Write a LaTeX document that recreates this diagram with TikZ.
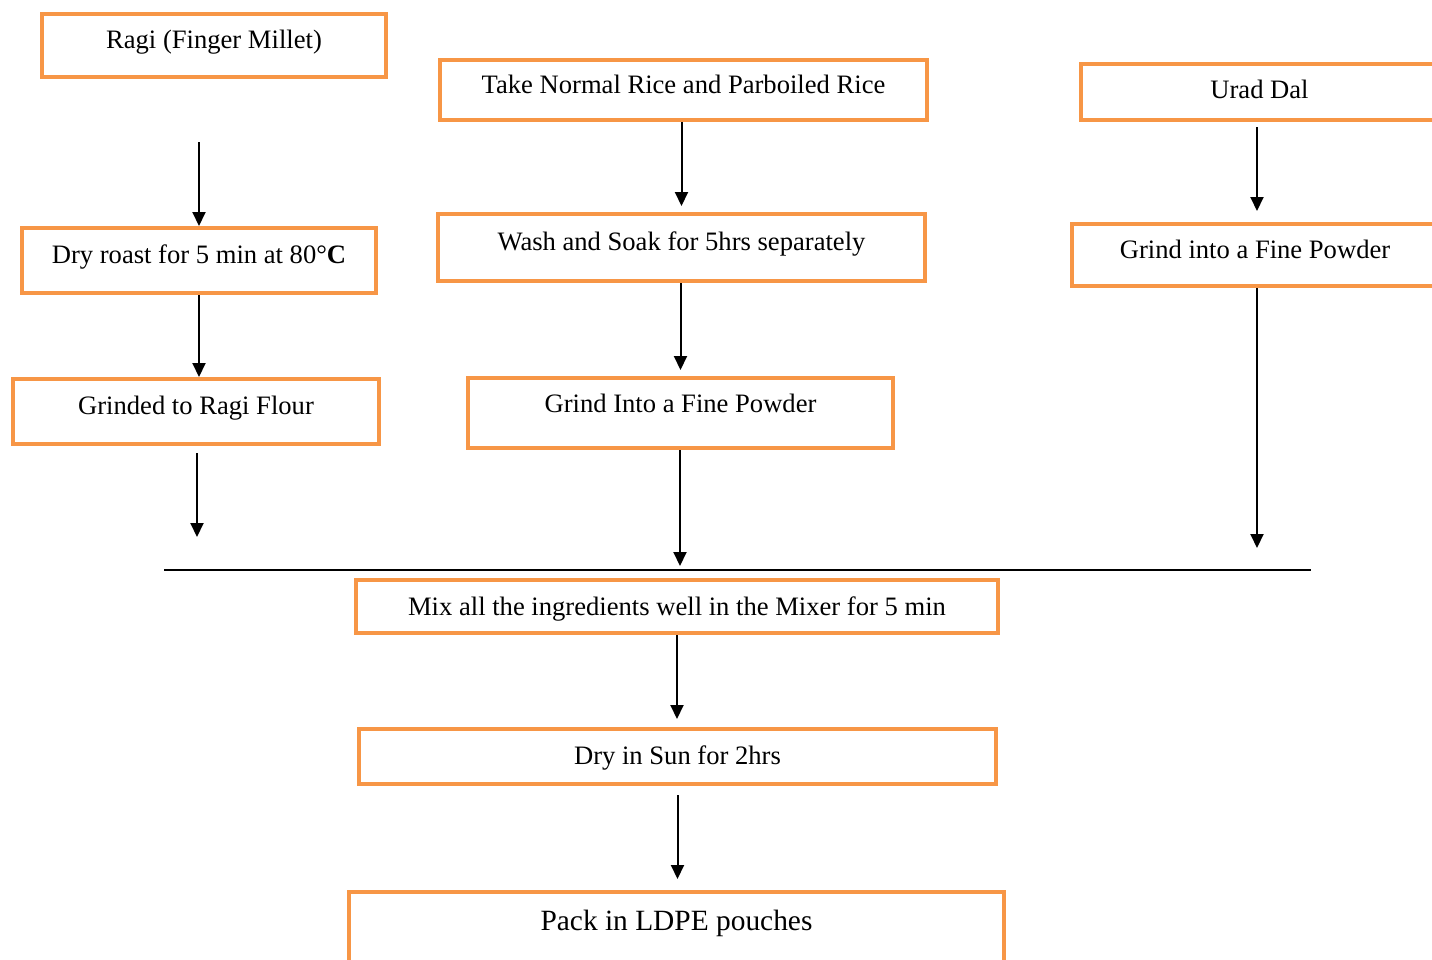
\documentclass[tikz,border=0pt]{standalone}
\usepackage{fontspec}
\setmainfont{Liberation Serif}
\usetikzlibrary{arrows.meta}
\definecolor{boxorange}{HTML}{F79646}

\tikzstyle{block} = [rectangle, draw=boxorange, line width=2pt, text centered, font=\fontsize{13.3}{16}\selectfont, text height=9pt, text depth=6pt, inner sep=0pt]

\begin{document}
\begin{tikzpicture}[x=0.5pt, y=-0.5pt, >={Triangle[length=7pt,width=6.5pt]}]
	\tikzstyle{flat}=[text depth=3pt]
	\tikzstyle{flow}=[->, line width=1pt]
\useasboundingbox (0,0) rectangle (1432,960);
% left column: ragi
  \node [block, minimum width=172pt, minimum height=31.5pt] (ragi) at (214,45.5) {Ragi (Finger Millet)};
  \node [block, minimum width=177pt, minimum height=32.5pt] (roast) at (199,260.5) {Dry roast for 5 min at 80°\textbf{C}};
  \node [block, minimum width=183pt, minimum height=32.5pt] (flour) at (196,411.5) {Grinded to Ragi Flour};
% middle column: rice
  \node [block, minimum width=243.5pt, minimum height=30pt] (rice) at (683.5,90) {Take Normal Rice and Parboiled Rice};
  \node [block, minimum width=243.5pt, minimum height=33.5pt] (wash) at (681.5,247.5) {Wash and Soak for 5hrs separately};
  \node [block, text depth=10pt, minimum width=212.5pt, minimum height=35pt] (grind1) at (680.5,413) {Grind Into a Fine Powder};
% right column: urad dal
  \node [block, flat, minimum width=178.5pt, minimum height=28pt] (urad) at (1259.5,92) {Urad Dal};
  \node [block, minimum width=183pt, minimum height=31pt] (grind2) at (1255,255) {Grind into a Fine Powder};
% common steps
  \node [block, text depth=0pt, minimum width=321pt, minimum height=26.5pt] (mix) at (677,606.5) {Mix all the ingredients well in the Mixer for 5 min};
  \node [block, text depth=1pt, minimum width=318.5pt, minimum height=27.5pt] (sun) at (677.5,756.5) {Dry in Sun for 2hrs};
  \node [block, font=\fontsize{14.7}{17}\selectfont, text depth=7pt, minimum width=327.5pt, minimum height=36pt] (pack) at (676.5,928) {Pack in LDPE pouches};
  \coordinate (ragiend) at (197,537);
  \coordinate (riceend) at (680,566);
  \coordinate (dalend) at (1257,548);
  \coordinate (joinl) at (164,570);
  \coordinate (joinr) at (1311,570);
\draw[flow, shorten <=31.5pt] (ragi.south -| roast.north) -- (roast.north);
\draw[flow] (roast.south) -- (roast.south |- flour.north);
\draw[flow, shorten <=3.5pt] (flour.south -| ragiend) -- (ragiend);
\draw[flow, shorten >=3pt] (rice.south -| wash.north) -- (wash.north);
\draw[flow, shorten >=3pt] (wash.south -| grind1.north) -- (grind1.north);
\draw[flow] (grind1.south -| riceend) -- (riceend);
\draw[flow, shorten <=2.5pt, shorten >=5.5pt] (urad.south -| dalend) -- (grind2.north -| dalend);
\draw[flow] (grind2.south -| dalend) -- (dalend);
\draw[line width=1pt] (joinl) -- (joinr);
\draw[flow, shorten >=4pt] (mix.south) -- (mix.south |- sun.north);
\draw[flow, shorten <=4.5pt, shorten >=5.5pt] (sun.south) -- (sun.south |- pack.north);
\end{tikzpicture}
\end{document}
